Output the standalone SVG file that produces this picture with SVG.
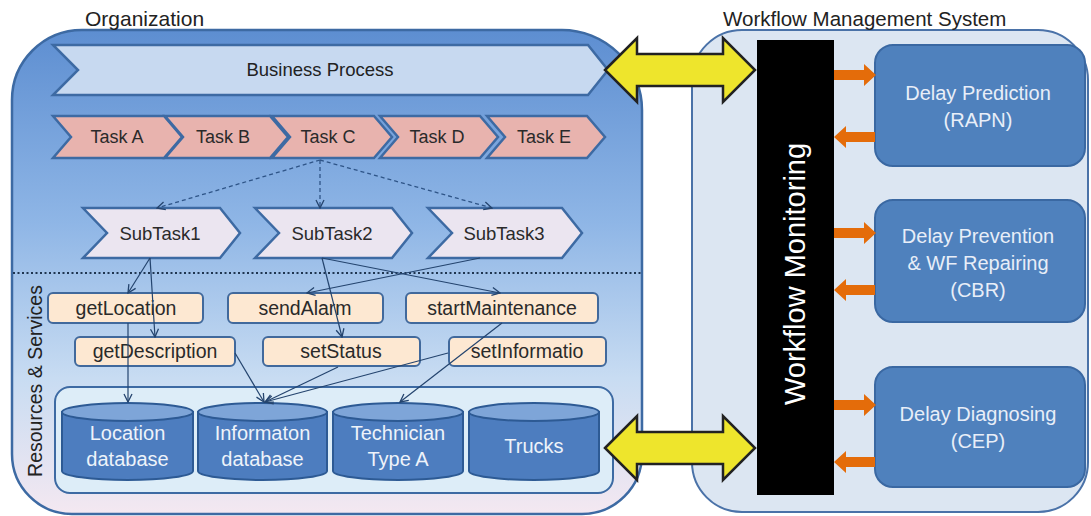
<svg xmlns="http://www.w3.org/2000/svg" width="1091" height="516" viewBox="0 0 1091 516">
<defs>
<linearGradient id="orgGrad" x1="0" y1="0" x2="0" y2="1">
<stop offset="0" stop-color="#5d8ed1"/>
<stop offset="0.4" stop-color="#8fb6e6"/>
<stop offset="0.72" stop-color="#c8dcf2"/>
<stop offset="1" stop-color="#f4e8f1"/>
</linearGradient>
<marker id="arr" viewBox="0 0 10 10" refX="9" refY="5" markerWidth="10" markerHeight="10" markerUnits="userSpaceOnUse" orient="auto">
<path d="M1,1 L9,5 L1,9" fill="none" stroke="#24446e" stroke-width="1.3"/>
</marker>
</defs>
<style>
text{font-family:"Liberation Sans",Arial,sans-serif;}
.lbl{font-size:21px;fill:#222;}
.task{fill:#e8b3ae;stroke:#3d6aa3;stroke-width:2.5;}
.sub{fill:#ebe5f0;stroke:#3d6aa3;stroke-width:2.5;}
.svc{fill:#fde8d2;stroke:#41699c;stroke-width:2;}
.tt{font-size:18px;fill:#2a2a2a;text-anchor:middle;}
.st{font-size:18.5px;fill:#2a2a2a;text-anchor:middle;}
.sv{font-size:19.5px;fill:#2a2a2a;text-anchor:middle;}
.cylb{fill:#4d7dbf;stroke:#2d5a94;stroke-width:2;}
.cylt{fill:#7ea5d8;stroke:#2d5a94;stroke-width:2;}
.ct{font-size:20px;fill:#eef3fa;text-anchor:middle;}
.dbox{fill:#4f81bd;stroke:#3a68a2;stroke-width:2;}
.dt{font-size:20px;fill:#e8eef8;text-anchor:middle;}
.orange{fill:#e46c0a;}
.yel{fill:#eee52c;stroke:#222;stroke-width:2.5;stroke-linejoin:miter;}
.dash{fill:none;stroke:#2e5487;stroke-width:1.3;stroke-dasharray:4 3;}
.conn{fill:none;stroke:#24446e;stroke-width:1.2;}
</style>

<g id="organization">
<path d="M12,100 A70,70 0 0 1 82,30 L562,30 A80,80 0 0 1 642,110 L642,454 A60,60 0 0 1 582,514 L72,514 A60,60 0 0 1 12,454 Z" fill="url(#orgGrad)" stroke="#3d6aa3" stroke-width="2.5"/>
<text class="lbl" x="85" y="26">Organization</text>
</g>

<g id="wms">
<rect x="692" y="30" width="396" height="482" rx="50" fill="#dce6f2" stroke="#4a72a8" stroke-width="2"/>
<text class="lbl" x="723" y="26" style="font-size:20.5px">Workflow Management System</text>
</g>

<g id="business-process">
<polygon points="53,45 588,45 608,70 588,95 53,95 78,70" fill="#c7d9f0" stroke="#3d6aa3" stroke-width="2.5"/>
<text x="320" y="76" style="font-size:18.5px;fill:#222;text-anchor:middle">Business Process</text>
</g>

<g id="task-a"><polygon class="task" points="53,116 164,116 182,137 164,158 53,158 71,137"/><text class="tt" x="117" y="143">Task A</text></g>
<g id="task-b"><polygon class="task" points="165,116 270,116 288,137 270,158 165,158 183,137"/><text class="tt" x="223" y="143">Task B</text></g>
<g id="task-c"><polygon class="task" points="272,116 374,116 392,137 374,158 272,158 290,137"/><text class="tt" x="328" y="143">Task C</text></g>
<g id="task-d"><polygon class="task" points="380,116 480,116 498,137 480,158 380,158 398,137"/><text class="tt" x="437" y="143">Task D</text></g>
<g id="task-e"><polygon class="task" points="487,116 587,116 605,137 587,158 487,158 505,137"/><text class="tt" x="544" y="143">Task E</text></g>

<g id="subtask1"><polygon class="sub" points="83,208 220,208 240,233 220,258 83,258 107,233"/><text class="st" x="160" y="240">SubTask1</text></g>
<g id="subtask2"><polygon class="sub" points="255,208 392,208 412,233 392,258 255,258 279,233"/><text class="st" x="332" y="240">SubTask2</text></g>
<g id="subtask3"><polygon class="sub" points="428,208 562,208 582,233 562,258 428,258 452,233"/><text class="st" x="504" y="240">SubTask3</text></g>

<g id="separator">
<line x1="13" y1="273" x2="641" y2="273" stroke="#1f3550" stroke-width="2" stroke-dasharray="2 2.5"/>
<text transform="translate(42,381) rotate(-90)" style="font-size:19.5px;fill:#222;text-anchor:middle">Resources &amp; Services</text>
</g>

<g id="getLocation"><rect class="svc" x="48" y="293" width="155" height="30" rx="5"/><text class="sv" x="126" y="315">getLocation</text></g>
<g id="sendAlarm"><rect class="svc" x="228" y="293" width="155" height="30" rx="5"/><text class="sv" x="305" y="315">sendAlarm</text></g>
<g id="startMaintenance"><rect class="svc" x="406" y="293" width="192" height="30" rx="5"/><text class="sv" x="502" y="315">startMaintenance</text></g>
<g id="getDescription"><rect class="svc" x="75" y="337" width="160" height="29" rx="5"/><text class="sv" x="155" y="358">getDescription</text></g>
<g id="setStatus"><rect class="svc" x="263" y="337" width="157" height="29" rx="5"/><text class="sv" x="341" y="358">setStatus</text></g>
<g id="setInformatio"><rect class="svc" x="449" y="337" width="157" height="29" rx="5"/><text class="sv" x="527" y="358">setInformatio</text></g>

<g id="resources">
<rect x="55" y="387" width="558" height="106" rx="15" fill="#ddedf8" stroke="#3d6aa3" stroke-width="2"/>
</g>

<g id="location-db">
<path class="cylb" d="M62,412 L62,471 A65.5,9 0 0 0 193,471 L193,412 Z"/>
<ellipse class="cylt" cx="127.5" cy="412" rx="65.5" ry="9"/>
<text class="ct" x="127.5" y="440">Location</text><text class="ct" x="127.5" y="466">database</text>
</g>
<g id="informaton-db">
<path class="cylb" d="M198,412 L198,471 A64.5,9 0 0 0 327,471 L327,412 Z"/>
<ellipse class="cylt" cx="262.5" cy="412" rx="64.5" ry="9"/>
<text class="ct" x="262.5" y="440">Informaton</text><text class="ct" x="262.5" y="466">database</text>
</g>
<g id="technician-db">
<path class="cylb" d="M333,412 L333,471 A65,9 0 0 0 463,471 L463,412 Z"/>
<ellipse class="cylt" cx="398" cy="412" rx="65" ry="9"/>
<text class="ct" x="398" y="440">Technician</text><text class="ct" x="398" y="466">Type A</text>
</g>
<g id="trucks-db">
<path class="cylb" d="M469,412 L469,471 A65,9 0 0 0 599,471 L599,412 Z"/>
<ellipse class="cylt" cx="534" cy="412" rx="65" ry="9"/>
<text class="ct" x="534" y="453">Trucks</text>
</g>

<g id="monitoring">
<rect x="757" y="40" width="77" height="455" fill="#000"/>
<text transform="translate(805,274) rotate(-90)" style="font-size:29px;fill:#fff;text-anchor:middle">Workflow Monitoring</text>
</g>

<g id="delay-prediction">
<rect class="dbox" x="875" y="45" width="210" height="121" rx="18"/>
<text class="dt" x="978" y="100">Delay Prediction</text><text class="dt" x="978" y="127">(RAPN)</text>
</g>
<g id="delay-prevention">
<rect class="dbox" x="875" y="200" width="210" height="122" rx="18"/>
<text class="dt" x="978" y="243">Delay Prevention</text><text class="dt" x="978" y="270">&amp; WF Repairing</text><text class="dt" x="978" y="297">(CBR)</text>
</g>
<g id="delay-diagnosing">
<rect class="dbox" x="875" y="367" width="210" height="120" rx="18"/>
<text class="dt" x="978" y="421">Delay Diagnosing</text><text class="dt" x="978" y="448">(CEP)</text>
</g>

<g id="connectors">
<line class="dash" x1="320" y1="160" x2="157" y2="208" marker-end="url(#arr)"/>
<line class="dash" x1="320" y1="160" x2="320" y2="208" marker-end="url(#arr)"/>
<line class="dash" x1="320" y1="160" x2="492" y2="208" marker-end="url(#arr)"/>
<line class="conn" x1="150" y1="258" x2="128" y2="293" marker-end="url(#arr)"/>
<line class="conn" x1="150" y1="258" x2="155" y2="337" marker-end="url(#arr)"/>
<line class="conn" x1="128" y1="323" x2="128" y2="402" marker-end="url(#arr)"/>
<line class="conn" x1="235" y1="353" x2="264" y2="402" marker-end="url(#arr)"/>
<line class="conn" x1="322" y1="258" x2="342" y2="337" marker-end="url(#arr)"/>
<line class="conn" x1="322" y1="258" x2="500" y2="293" marker-end="url(#arr)"/>
<line class="conn" x1="480" y1="258" x2="307" y2="293" marker-end="url(#arr)"/>
<line class="conn" x1="338" y1="367" x2="265" y2="402" marker-end="url(#arr)"/>
<line class="conn" x1="448" y1="353" x2="265" y2="402" marker-end="url(#arr)"/>
<line class="conn" x1="502" y1="323" x2="400" y2="402" marker-end="url(#arr)"/>
<path class="orange" d="M834,70 L864,70 L864,64 L876,75 L864,86 L864,80 L834,80 Z"/>
<path class="orange" d="M875,132 L846,132 L846,126 L834,137 L846,148 L846,142 L875,142 Z"/>
<path class="orange" d="M834,228 L864,228 L864,222 L876,233 L864,244 L864,238 L834,238 Z"/>
<path class="orange" d="M875,285 L846,285 L846,279 L834,290 L846,301 L846,295 L875,295 Z"/>
<path class="orange" d="M834,400 L864,400 L864,394 L876,405 L864,416 L864,410 L834,410 Z"/>
<path class="orange" d="M875,457 L846,457 L846,451 L834,462 L846,473 L846,467 L875,467 Z"/>
<path class="yel" d="M605,70 L637,38 L637,54 L723,54 L723,38 L755,70 L723,102 L723,86 L637,86 L637,102 Z"/>
<path class="yel" d="M605,448 L637,416 L637,432 L723,432 L723,416 L755,448 L723,480 L723,464 L637,464 L637,480 Z"/>
</g>
</svg>
